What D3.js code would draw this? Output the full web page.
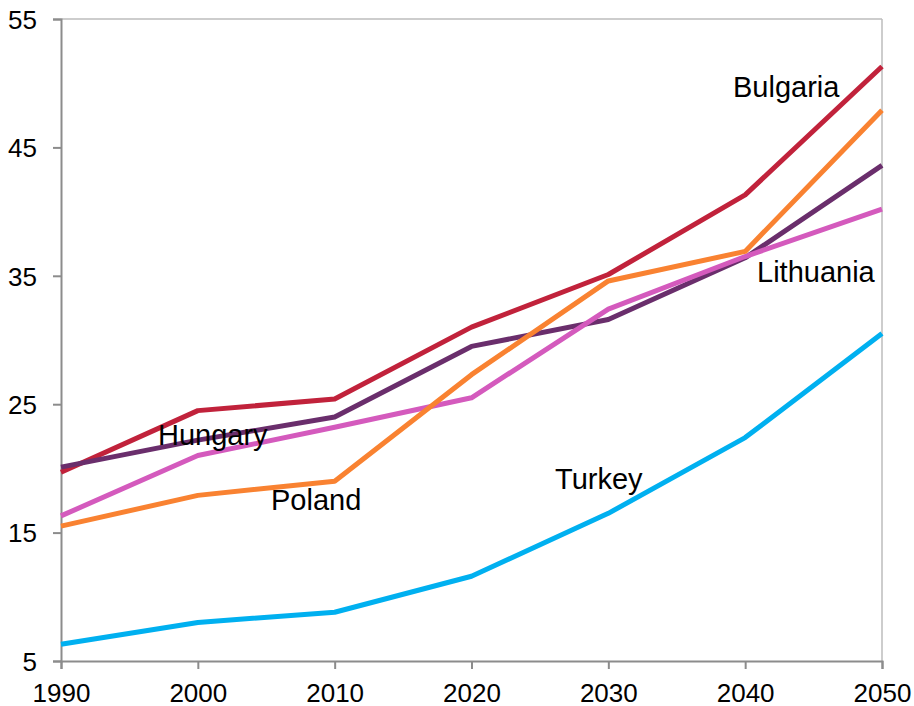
<!DOCTYPE html>
<html>
<head>
<meta charset="utf-8">
<style>
    body { margin: 0; background: #fff; }
    text { font-family: "Liberation Sans", Arial, sans-serif; fill: #000; }
</style>
</head>
<body>
<svg id="chart" width="914" height="706"></svg>
<script src="https://cdn.jsdelivr.net/npm/d3@7"></script>
<script>
    // data
    let years = [1990, 2000, 2010, 2020, 2030, 2040, 2050]
    let yTicks = [5, 15, 25, 35, 45, 55]

    let bulgaria = [19.7, 24.5, 25.4, 31.0, 35.1, 41.3, 51.3]
    let hungary = [20.1, 22.2, 24.0, 29.5, 31.6, 36.4, 43.6]
    let lithuania = [16.3, 21.0, 23.2, 25.5, 32.4, 36.5, 40.2]
    let poland = [15.5, 17.9, 19.0, 27.3, 34.6, 36.9, 47.9]
    let turkey = [6.3, 8.0, 8.8, 11.6, 16.5, 22.4, 30.5]

    // drawing order = stacking order seen in the picture
    let series = [
        { name: "Bulgaria", values: bulgaria, color: "#c1223b", lx: 733, ly: 97 },
        { name: "Hungary", values: hungary, color: "#6a2e6c", lx: 158, ly: 445 },
        { name: "Lithuania", values: lithuania, color: "#d45abd", lx: 757, ly: 282 },
        { name: "Poland", values: poland, color: "#f98231", lx: 271, ly: 510 },
        { name: "Turkey", values: turkey, color: "#00b0f0", lx: 555, ly: 489 }
    ]

    let plotLeft = 61, plotRight = 882, plotTop = 19, plotBottom = 661

    let svg = d3.select("#chart")

    let x = d3.scaleLinear().domain([1990, 2050]).range([plotLeft, plotRight])
    let y = d3.scaleLinear().domain([5, 55]).range([plotBottom, plotTop])

    // frame: light top and right edges
    svg.append("line")
        .attr("x1", plotLeft).attr("x2", plotRight).attr("y1", plotTop).attr("y2", plotTop)
        .attr("stroke", "#bdbdbd").attr("stroke-width", 1.5)
    svg.append("line")
        .attr("x1", plotRight).attr("x2", plotRight).attr("y1", plotTop).attr("y2", plotBottom)
        .attr("stroke", "#bdbdbd").attr("stroke-width", 1.5)

    let yAxis = svg.append("g")
        .attr("transform", `translate(${plotLeft},0)`)
        .call(d3.axisLeft(y).tickValues(yTicks).tickSize(8).tickPadding(16))
    let xAxis = svg.append("g")
        .attr("transform", `translate(0,${plotBottom})`)
        .call(d3.axisBottom(x).tickValues(years).tickFormat(d3.format("d")).tickSize(8).tickPadding(14))

    for (let ax of [xAxis, yAxis]) {
        ax.select(".domain").attr("stroke", "#8c8c8c").attr("stroke-width", 2)
        ax.selectAll(".tick line").attr("stroke", "#8c8c8c").attr("stroke-width", 2)
        ax.selectAll("text").attr("font-size", 26).attr("font-family", "Liberation Sans, Arial, sans-serif").attr("fill", "#000")
    }
    yAxis.selectAll("text").attr("dy", "0.36em")
    xAxis.selectAll("text").attr("dy", "0.72em")

    let line = d3.line()
        .x((d, i) => x(years[i]))
        .y(d => y(d))

    svg.selectAll(".series")
        .data(series)
        .enter()
        .append("path")
        .attr("class", "series")
        .attr("d", d => line(d.values))
        .attr("fill", "none")
        .attr("stroke", d => d.color)
        .attr("stroke-width", 5)
        .attr("stroke-linejoin", "round")

    svg.selectAll(".label")
        .data(series)
        .enter()
        .append("text")
        .attr("class", "label")
        .attr("x", d => d.lx)
        .attr("y", d => d.ly)
        .attr("font-size", 29)
        .text(d => d.name)
</script>
</body>
</html>
